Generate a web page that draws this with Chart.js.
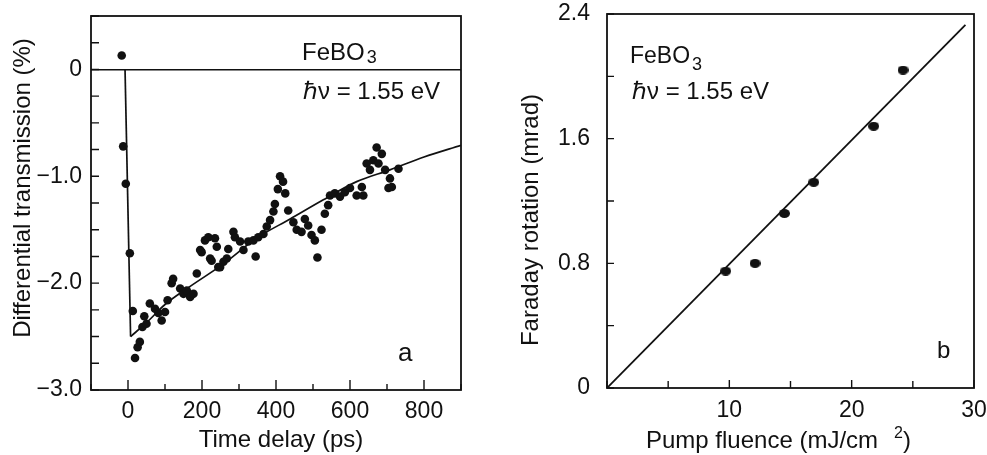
<!DOCTYPE html>
<html>
<head>
<meta charset="utf-8">
<title>FeBO3 pump-probe</title>
<script src="https://cdn.jsdelivr.net/npm/chart.js@4.4.1/dist/chart.umd.min.js"></script>
<style>
    html, body { margin: 0; padding: 0; background: #fff; }
    body { width: 987px; height: 455px; position: relative; overflow: hidden; }
    canvas { position: absolute; top: 0; }
    #transChart { left: 0; }
    #faradayChart { left: 497px; }
</style>
</head>
<body>
<canvas id="transChart" width="480" height="455"></canvas>
<canvas id="faradayChart" width="490" height="455"></canvas>
<script>
// (a) differential transmission vs time delay
const delayPs = [-17, -13, -6, 5, 13, 19, 26, 32, 39, 44, 50, 59, 73, 82, 91, 100, 107, 118, 122,
    141, 150, 159, 168, 177, 186, 195, 199, 208, 217, 222, 226, 235, 240, 244, 249, 258, 267, 271,
    285, 289, 303, 312, 325, 339, 345, 352, 366, 375, 384, 393, 397, 405, 411, 419, 425, 433, 447,
    456, 469, 478, 487, 496, 505, 512, 523, 532, 541, 546, 559, 573, 586, 600, 618, 632, 636, 645,
    654, 663, 672, 677, 686, 695, 704, 708, 713, 731]
const transPct = [0.13, -0.72, -1.07, -1.72, -2.26, -2.70, -2.60, -2.55, -2.41, -2.31, -2.38, -2.19,
    -2.24, -2.28, -2.35, -2.27, -2.16, -2.00, -1.96, -2.05, -2.10, -2.07, -2.13, -2.10, -1.91, -1.69,
    -1.71, -1.60, -1.57, -1.77, -1.79, -1.58, -1.66, -1.85, -1.85, -1.80, -1.77, -1.68, -1.52, -1.57,
    -1.61, -1.69, -1.61, -1.60, -1.75, -1.57, -1.54, -1.47, -1.41, -1.33, -1.26, -1.12, -1.00, -1.05,
    -1.16, -1.32, -1.43, -1.50, -1.52, -1.40, -1.46, -1.55, -1.60, -1.76, -1.50, -1.35, -1.27, -1.18,
    -1.16, -1.19, -1.15, -1.11, -1.18, -1.10, -1.18, -0.88, -0.94, -0.85, -0.73, -0.88, -0.79, -0.94,
    -1.11, -1.02, -1.10, -0.93]

// fitted curve: fast drop, then slow recovery
const dropPs = [-8, 7]
const dropPct = [0, -2.50]
const recoveryPs = [7, 50, 100, 168, 258, 347, 438, 528, 618, 708, 800, 900]
const recoveryPct = [-2.50, -2.37, -2.20, -2.03, -1.82, -1.58, -1.40, -1.22, -1.05, -0.94, -0.82, -0.71]

const delayTickValues = [0, 200, 400, 600, 800]
const delayTickLabels = ['0', '200', '400', '600', '800']
const transTickValues = [0, -1, -2, -3]
const transTickLabels = ['0', '−1.0', '−2.0', '−3.0']

// (b) Faraday rotation vs pump fluence
const fluence = [9.7, 12.1, 14.5, 16.9, 21.8, 24.2]
const rotation = [0.75, 0.80, 1.12, 1.32, 1.68, 2.04]
const fitFluence = [0, 29.3]
const fitRotation = [0, 2.33]

const fluenceTickValues = [10, 20, 30]
const fluenceTickLabels = ['10', '20', '30']
const rotationTickValues = [0, 0.8, 1.6, 2.4]
const rotationTickLabels = ['0', '0.8', '1.6', '2.4']

const FONT = '"Liberation Sans", Arial, Helvetica, sans-serif'
const INK = '#111'

const pairs = (xs, ys) => xs.map((x, i) => ({ x, y: ys[i] }))

function labelFor(values, labels) {
    return v => {
        const i = values.findIndex(t => Math.abs(t - v) < 1e-6)
        return i < 0 ? '' : labels[i]
    }
}

function ellipseDot(w, h) {
    const c = document.createElement('canvas')
    c.width = w
    c.height = h
    const g = c.getContext('2d')
    g.fillStyle = INK
    g.beginPath()
    g.ellipse(w / 2, h / 2, w / 2, h / 2, 0, 0, Math.PI * 2)
    g.fill()
    return c
}

// fixed axis boxes so the plot frame lands where the figure has it
const fixX = h => s => { s.height = h; s.paddingLeft = 0; s.paddingRight = 0 }
const fixY = w => s => { s.width = w; s.paddingTop = 0; s.paddingBottom = 0 }

// box frame + inward tick marks (left and bottom only)
const frameTicks = {
    id: 'frameTicks',
    afterDatasetsDraw(chart, args, opts) {
        const { ctx, chartArea: a } = chart
        const xs = chart.scales.x
        const ys = chart.scales.y
        ctx.save()
        ctx.strokeStyle = INK
        ctx.lineWidth = 1.4
        ctx.beginPath()
        xs.ticks.forEach(t => {
            const px = xs.getPixelForValue(t.value)
            const len = t.label ? opts.xMajor : opts.xMinor
            ctx.moveTo(px, a.bottom)
            ctx.lineTo(px, a.bottom - len)
        })
        ys.ticks.forEach(t => {
            const py = ys.getPixelForValue(t.value)
            const len = t.label ? opts.yMajor : opts.yMinor
            ctx.moveTo(a.left, py)
            ctx.lineTo(a.left + len, py)
        })
        ctx.stroke()
        ctx.lineWidth = 1.8
        ctx.strokeRect(a.left, a.top, a.right - a.left, a.bottom - a.top)
        ctx.restore()
    }
}

// axis titles and in-plot labels, with sub/superscripts
const textLayer = {
    id: 'textLayer',
    afterDraw(chart, args, opts) {
        const ctx = chart.ctx
        ctx.save()
        ctx.fillStyle = INK
        ctx.textBaseline = 'alphabetic'
        opts.items.forEach(item => {
            ctx.save()
            ctx.translate(item.x, item.y)
            if (item.rotate) ctx.rotate(-Math.PI / 2)
            let total = 0
            item.parts.forEach(p => {
                ctx.font = p.size + 'px ' + FONT
                total += (p.dx || 0) + ctx.measureText(p.t).width
            })
            let cx = item.align === 'center' ? -total / 2 : 0
            ctx.textAlign = 'left'
            item.parts.forEach(p => {
                ctx.font = p.size + 'px ' + FONT
                cx += p.dx || 0
                ctx.fillText(p.t, cx, p.dy || 0)
                cx += ctx.measureText(p.t).width
            })
            ctx.restore()
        })
        ctx.restore()
    }
}

const tickFont = { family: FONT, size: 23 }

new Chart(document.getElementById('transChart'), {
    type: 'scatter',
    data: {
        datasets: [
            {
                data: pairs(delayPs, transPct),
                pointRadius: 4.3,
                backgroundColor: INK,
                borderWidth: 0
            },
            {
                data: pairs(dropPs, dropPct),
                showLine: true,
                pointRadius: 0,
                borderColor: INK,
                borderWidth: 1.7
            },
            {
                data: pairs(recoveryPs, recoveryPct),
                showLine: true,
                pointRadius: 0,
                borderColor: INK,
                borderWidth: 1.7,
                cubicInterpolationMode: 'monotone'
            }
        ]
    },
    options: {
        responsive: false,
        animation: false,
        devicePixelRatio: 1,
        events: [],
        layout: { padding: { top: 16, right: 19, left: 0, bottom: 0 } },
        plugins: {
            legend: { display: false },
            tooltip: { enabled: false },
            frameTicks: { xMajor: 10, xMinor: 6, yMajor: 8, yMinor: 8 },
            textLayer: {
                items: [
                    { x: 30, y: 188, rotate: true, align: 'center', parts: [{ t: 'Differential transmission (%)', size: 24 }] },
                    { x: 281, y: 447, align: 'center', parts: [{ t: 'Time delay (ps)', size: 24 }] },
                    { x: 302, y: 60, parts: [{ t: 'FeBO', size: 24 }, { t: '3', size: 18, dx: 2, dy: 3 }] },
                    { x: 303, y: 99, parts: [{ t: 'ℏν = 1.55 eV', size: 24 }] },
                    { x: 398, y: 361, parts: [{ t: 'a', size: 26 }] }
                ]
            }
        },
        scales: {
            x: {
                type: 'linear',
                min: -100,
                max: 900,
                ticks: {
                    stepSize: 100,
                    autoSkip: false,
                    maxRotation: 0,
                    padding: 0,
                    color: INK,
                    font: tickFont,
                    callback: labelFor(delayTickValues, delayTickLabels)
                },
                grid: { display: false },
                border: { display: false },
                afterFit: fixX(65)
            },
            y: {
                type: 'linear',
                min: -3,
                max: 0.5,
                ticks: {
                    stepSize: 0.25,
                    autoSkip: false,
                    padding: 9,
                    color: INK,
                    font: tickFont,
                    callback: labelFor(transTickValues, transTickLabels)
                },
                grid: {
                    drawTicks: false,
                    lineWidth: 1.6,
                    color: c => (c.tick && Math.abs(c.tick.value) < 1e-6 ? INK : 'rgba(0,0,0,0)')
                },
                border: { display: false },
                afterFit: fixY(91)
            }
        }
    },
    plugins: [frameTicks, textLayer]
})

new Chart(document.getElementById('faradayChart'), {
    type: 'scatter',
    data: {
        datasets: [
            {
                data: pairs(fluence, rotation),
                pointStyle: ellipseDot(11, 9),
                pointRadius: 5,
                backgroundColor: INK
            },
            {
                data: pairs(fitFluence, fitRotation),
                showLine: true,
                pointRadius: 0,
                borderColor: INK,
                borderWidth: 1.8
            }
        ]
    },
    options: {
        responsive: false,
        animation: false,
        devicePixelRatio: 1,
        events: [],
        layout: { padding: { top: 14, right: 13, left: 0, bottom: 0 } },
        plugins: {
            legend: { display: false },
            tooltip: { enabled: false },
            frameTicks: { xMajor: 8, xMinor: 7, yMajor: 7, yMinor: 7 },
            textLayer: {
                items: [
                    { x: 41, y: 220, rotate: true, align: 'center', parts: [{ t: 'Faraday rotation (mrad)', size: 24 }] },
                    { x: 149, y: 448, parts: [
                        { t: 'Pump fluence (mJ/cm', size: 24 },
                        { t: '2', size: 16, dx: 16, dy: -10 },
                        { t: ')', size: 24 }
                    ] },
                    { x: 133, y: 63, parts: [{ t: 'FeBO', size: 23 }, { t: '3', size: 18, dx: 2, dy: 7 }] },
                    { x: 135, y: 99, parts: [{ t: 'ℏν = 1.55 eV', size: 24 }] },
                    { x: 440, y: 358, parts: [{ t: 'b', size: 24 }] }
                ]
            }
        },
        scales: {
            x: {
                type: 'linear',
                min: 0,
                max: 30,
                ticks: {
                    stepSize: 5,
                    autoSkip: false,
                    maxRotation: 0,
                    padding: 1,
                    color: INK,
                    font: tickFont,
                    callback: labelFor(fluenceTickValues, fluenceTickLabels)
                },
                grid: { display: false },
                border: { display: false },
                afterFit: fixX(67)
            },
            y: {
                type: 'linear',
                min: 0,
                max: 2.4,
                ticks: {
                    stepSize: 0.4,
                    autoSkip: false,
                    padding: 9,
                    color: INK,
                    font: tickFont,
                    callback: labelFor(rotationTickValues, rotationTickLabels)
                },
                grid: { display: false },
                border: { display: false },
                afterFit: fixY(110)
            }
        }
    },
    plugins: [frameTicks, textLayer]
})
</script>
</body>
</html>
